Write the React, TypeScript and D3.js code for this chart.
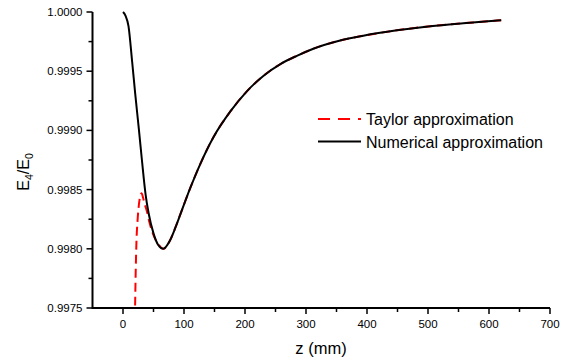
import React from 'react';
import * as d3 from 'd3';

// numerical curve (z in mm, E4/E0)
const numZ = [0, 4, 9, 15, 20, 26, 31, 37, 42, 50, 58, 66, 77, 86, 94, 110, 127, 148, 176, 203, 230, 258, 285, 312, 356, 394, 449, 504, 558, 620];
const numE = [1.0, 0.99997, 0.99988, 0.99958, 0.99931, 0.99901, 0.99875, 0.99846, 0.9983, 0.99813, 0.99803, 0.998, 0.99807, 0.99818, 0.99829, 0.99851, 0.99872, 0.99894, 0.99916, 0.99933, 0.99946, 0.99956, 0.99963, 0.99969, 0.99976, 0.9998, 0.999845, 0.99988, 0.999905, 0.99993];

// taylor curve
const tayZ = [19.5, 21, 22, 24, 26, 28, 30.5, 33, 36, 39, 43, 47.5, 53, 58, 66, 77, 86, 94, 110, 127, 148, 176, 203, 230, 258, 285, 312, 356, 394, 449, 504, 558, 620];
const tayE = [0.9974, 0.99785, 0.99805, 0.99825, 0.99837, 0.99844, 0.99847, 0.99843, 0.99837, 0.99832, 0.99823, 0.99815, 0.99808, 0.99804, 0.998, 0.99807, 0.99818, 0.99829, 0.99851, 0.99872, 0.99894, 0.99916, 0.99933, 0.99946, 0.99956, 0.99963, 0.99969, 0.99976, 0.9998, 0.999845, 0.99988, 0.999905, 0.99993];

const xMajor = [0, 100, 200, 300, 400, 500, 600, 700];
const xMinor = [50, 150, 250, 350, 450, 550, 650];
const yMajor = [0.9975, 0.998, 0.9985, 0.999, 0.9995, 1.0];
const yMinor = [0.99775, 0.99825, 0.99875, 0.99925, 0.99975];

const font = '"Liberation Sans", Arial, sans-serif';

export default function App() {
  const W = 568, H = 361;
  const x = d3.scaleLinear().domain([-50, 700]).range([92.5, 550]);
  const y = d3.scaleLinear().domain([0.9975, 1.0]).range([308, 12]);

  const line = d3.line<[number, number]>()
    .x(d => x(d[0]))
    .y(d => y(d[1]))
    .curve(d3.curveMonotoneX);

  const numPts = numZ.map((z, i) => [z, numE[i]] as [number, number]);
  const tayPts = tayZ.map((z, i) => [z, tayE[i]] as [number, number]);

  return (
    <svg width={W} height={H} style={{ position: 'absolute', left: 0, top: 0, background: 'white' }}
      fontFamily={font}>
      <defs>
        <clipPath id="plot">
          <rect x={x(-50)} y={y(1.0) - 5} width={x(700) - x(-50)} height={y(0.9975) - y(1.0) + 5} />
        </clipPath>
      </defs>

      <g clipPath="url(#plot)" fill="none">
        <path d={line(tayPts) || ''} stroke="#ff0000" strokeWidth={2} strokeDasharray="9,5" />
        <path d={line(numPts) || ''} stroke="#000" strokeWidth={2} />
      </g>

      {/* x axis */}
      <line x1={x(-50)} x2={x(700)} y1={y(0.9975)} y2={y(0.9975)} stroke="#000" strokeWidth={2} />
      {xMajor.map(v => (
        <g key={'xm' + v}>
          <line x1={x(v)} x2={x(v)} y1={308} y2={314} stroke="#000" strokeWidth={1.5} />
          <text x={x(v)} y={328} fontSize={11.5} textAnchor="middle">{v}</text>
        </g>
      ))}
      {xMinor.map(v => (
        <line key={'xn' + v} x1={x(v)} x2={x(v)} y1={308} y2={312} stroke="#000" strokeWidth={1.5} />
      ))}
      <text x={321} y={354} fontSize={16.5} textAnchor="middle">z (mm)</text>

      {/* y axis */}
      <line x1={x(-50)} x2={x(-50)} y1={y(0.9975) + 1} y2={y(1.0)} stroke="#000" strokeWidth={2} />
      {yMajor.map(v => (
        <g key={'ym' + v}>
          <line x1={x(-50) - 6} x2={x(-50)} y1={y(v)} y2={y(v)} stroke="#000" strokeWidth={1.5} />
          <text x={x(-50) - 10} y={y(v) + 4} fontSize={11.5} textAnchor="end">{v.toFixed(4)}</text>
        </g>
      ))}
      {yMinor.map(v => (
        <line key={'yn' + v} x1={x(-50) - 4} x2={x(-50)} y1={y(v)} y2={y(v)} stroke="#000" strokeWidth={1.5} />
      ))}
      <text transform="translate(29,172) rotate(-90)" fontSize={16} textAnchor="middle">
        E<tspan fontSize={10.5} dy={4}>4</tspan><tspan dy={-4}>/E</tspan><tspan fontSize={10.5} dy={4}>0</tspan>
      </text>

      {/* legend */}
      <line x1={318} x2={361} y1={119} y2={119} stroke="#ff0000" strokeWidth={2} strokeDasharray="12,8" />
      <text x={366} y={125} fontSize={16}>Taylor approximation</text>
      <line x1={318} x2={361} y1={141.5} y2={141.5} stroke="#000" strokeWidth={2} />
      <text x={366} y={148} fontSize={16}>Numerical approximation</text>
    </svg>
  );
}
